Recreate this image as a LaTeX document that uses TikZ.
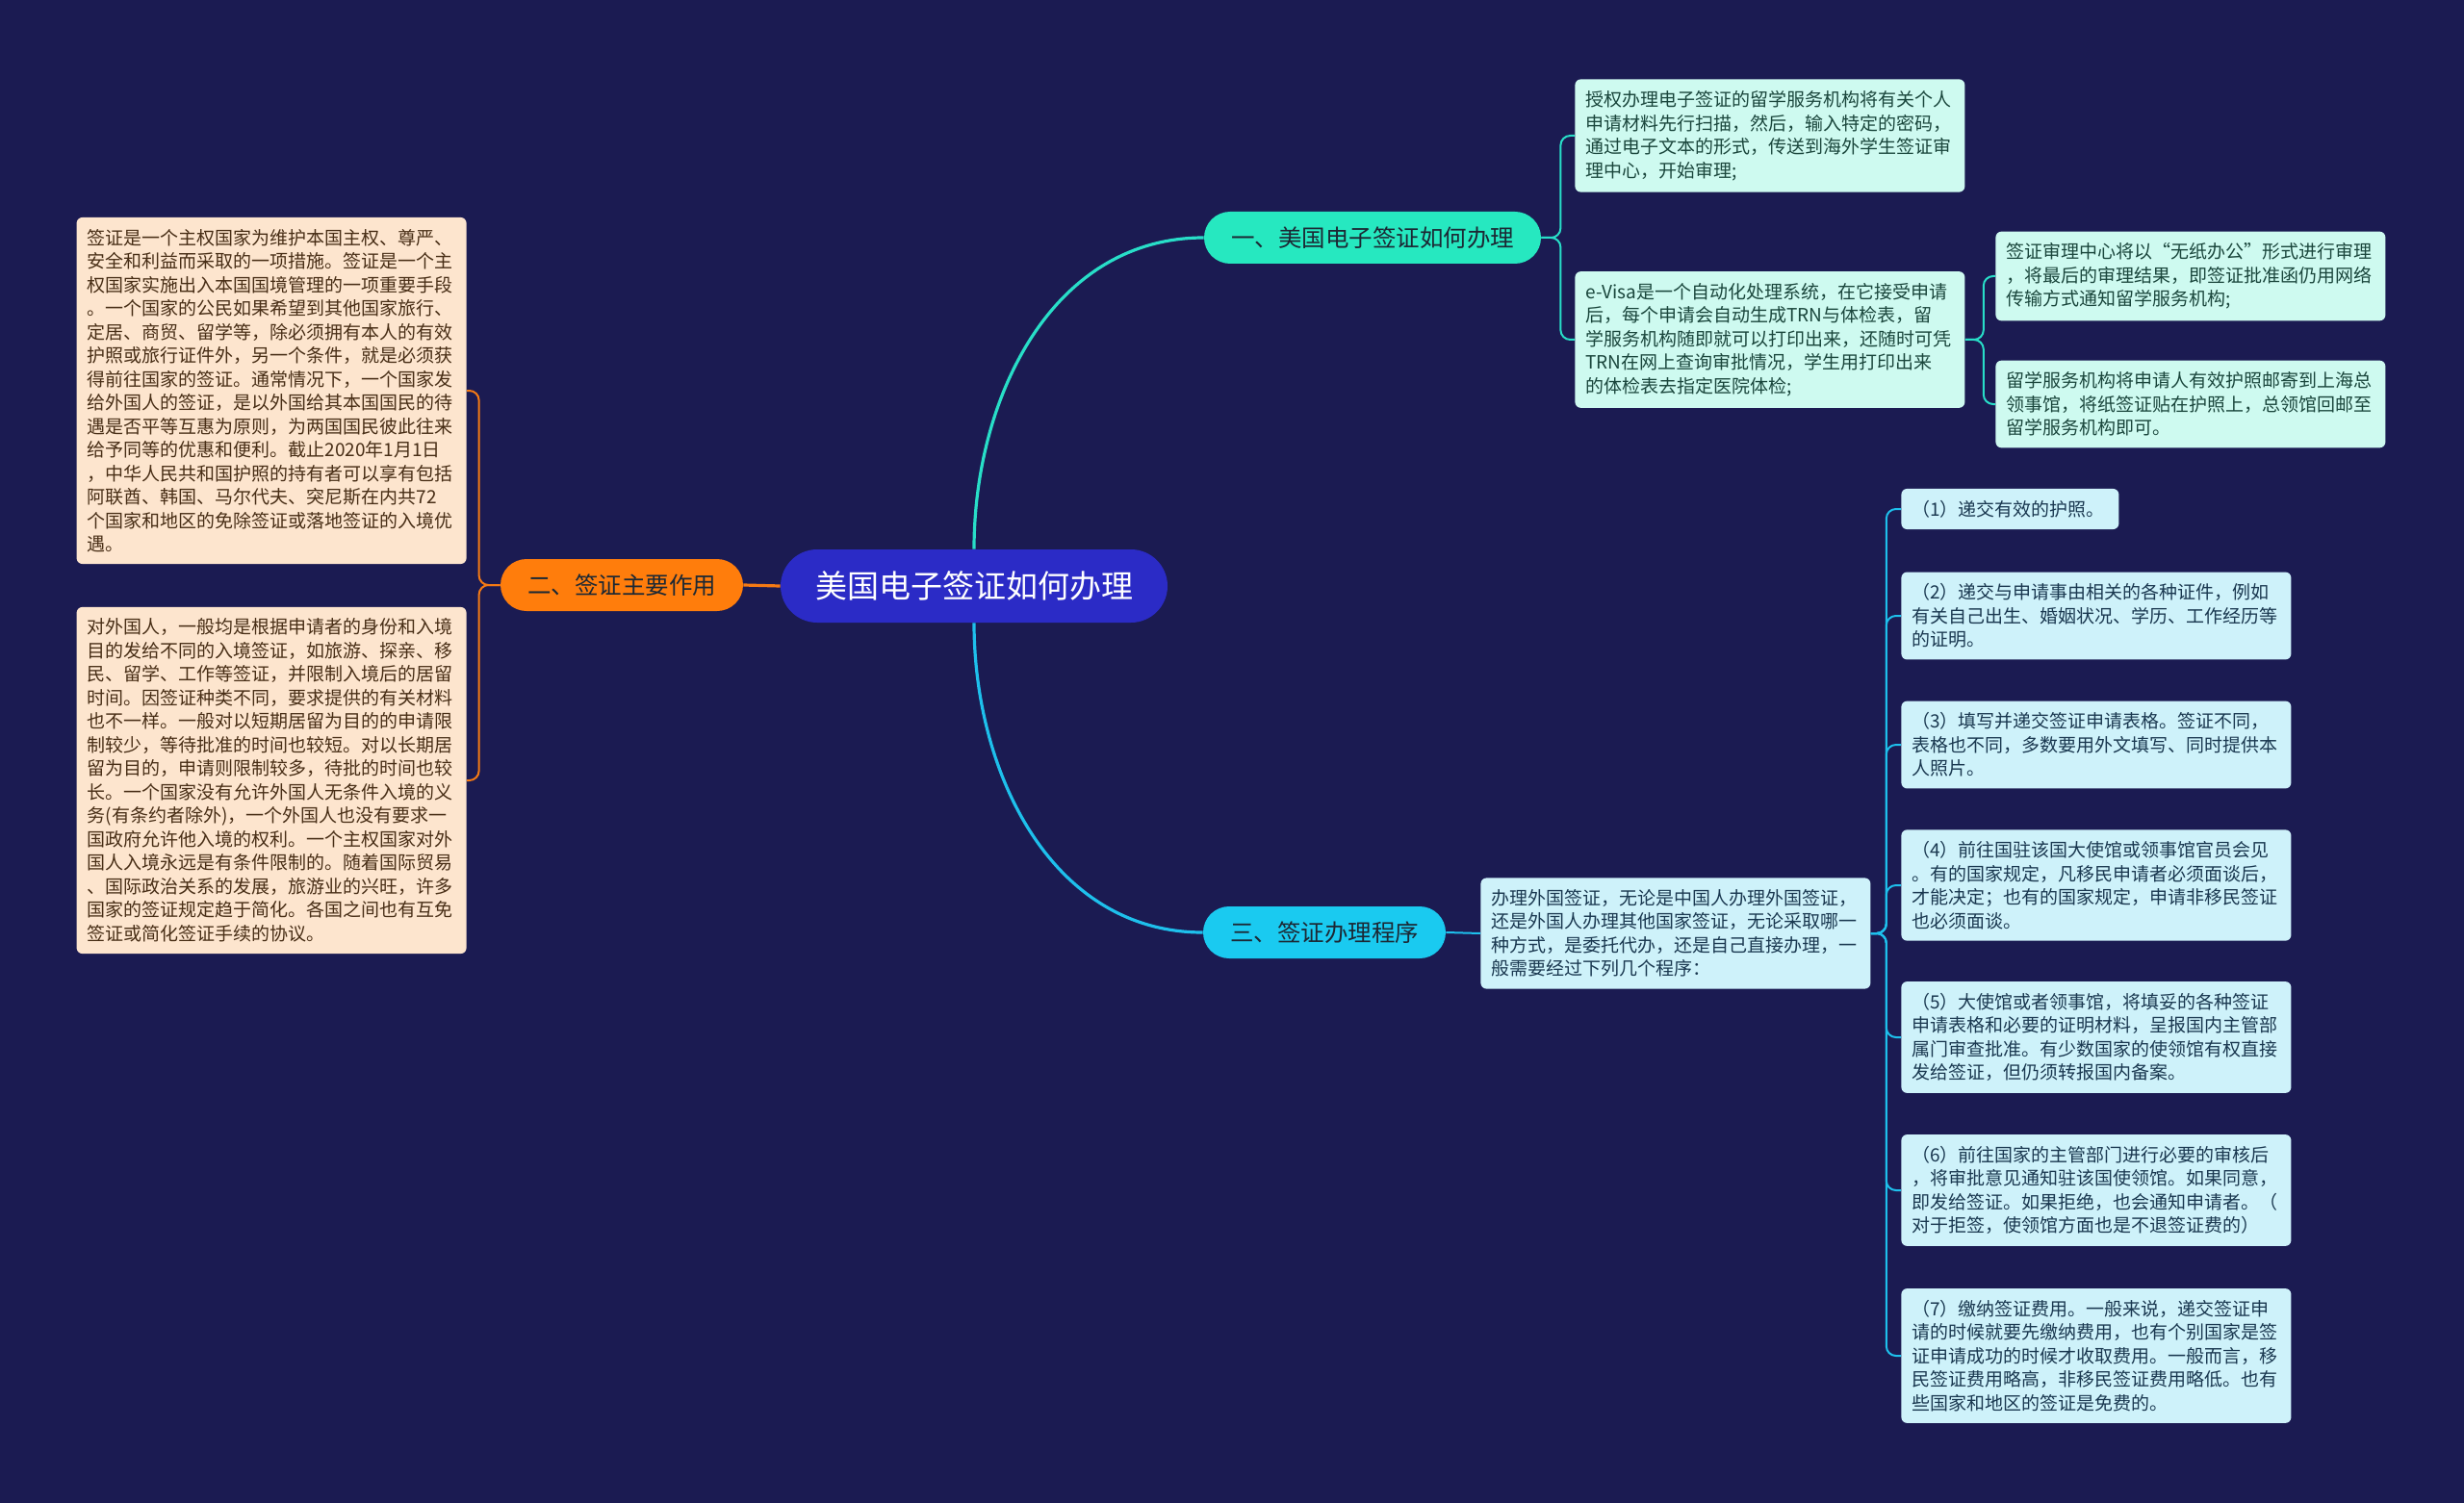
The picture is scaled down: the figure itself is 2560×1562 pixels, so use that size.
\documentclass[tikz,border=0pt]{standalone}
\usepackage{fontspec}
\setmainfont{Noto Sans CJK SC}
\usepackage{xcolor}

\definecolor{bgnavy}{RGB}{27,27,82}
\definecolor{rootblue}{RGB}{43,43,198}
\definecolor{tealfill}{RGB}{38,232,192}
\definecolor{orangefill}{RGB}{255,125,12}
\definecolor{cyanfill}{RGB}{26,202,240}
\definecolor{topictext}{RGB}{28,40,52}
\definecolor{peach}{RGB}{253,229,206}
\definecolor{peachtext}{RGB}{72,46,22}
\definecolor{mint}{RGB}{206,250,240}
\definecolor{minttext}{RGB}{26,70,60}
\definecolor{sky}{RGB}{206,242,250}
\definecolor{skytext}{RGB}{26,56,80}
\definecolor{linkteal}{RGB}{40,222,200}
\definecolor{linkorange}{RGB}{245,122,20}
\definecolor{linkcyan}{RGB}{30,192,236}

\begin{document}
\begin{tikzpicture}[
  x=0.5pt, y=-0.5pt,
  every node/.style={align=left, inner xsep=5.5pt, inner ysep=6pt, rounded corners=3pt, font=\fontsize{9.5}{12.25}\selectfont},
  rootnode/.style={fill=rootblue, text=white, rounded corners=19pt, minimum height=38pt, inner xsep=18pt, inner ysep=0pt, font=\fontsize{16.5}{19}\selectfont},
  topicnode/.style={rounded corners=13.5pt, minimum height=27pt, inner xsep=14pt, inner ysep=0pt, text=topictext, font=\fontsize{12.25}{14}\selectfont},
  leftleaf/.style={fill=peach, text=peachtext, text width=191.5pt, anchor=east},
  mintleaf/.style={fill=mint, text=minttext, text width=191.5pt, anchor=west},
  skyleaf/.style={fill=sky, text=skytext, text width=191.5pt, anchor=west},
  mainlink/.style={line width=1.6pt},
  sublink/.style={line width=1pt, rounded corners=5pt}
]
\fill[bgnavy] (0,0) rectangle (2560,1562);
\useasboundingbox (0,0) rectangle (2560,1562);

% root and topics
\node[rootnode] (root) at (1012,609) {美国电子签证如何办理};
\node[topicnode, fill=tealfill] (online) at (1426,247) {一、美国电子签证如何办理};
\node[topicnode, fill=orangefill] (role) at (646,608) {二、签证主要作用};
\node[topicnode, fill=cyanfill] (steps) at (1376,969) {三、签证办理程序};

% left side
\node[leftleaf] (role1) at (485,406) {签证是一个主权国家为维护本国主权、尊严、\\安全和利益而采取的一项措施。签证是一个主\\权国家实施出入本国国境管理的一项重要手段\\。一个国家的公民如果希望到其他国家旅行、\\定居、商贸、留学等，除必须拥有本人的有效\\护照或旅行证件外，另一个条件，就是必须获\\得前往国家的签证。通常情况下，一个国家发\\给外国人的签证，是以外国给其本国国民的待\\遇是否平等互惠为原则，为两国国民彼此往来\\给予同等的优惠和便利。截止2020年1月1日\\，中华人民共和国护照的持有者可以享有包括\\阿联酋、韩国、马尔代夫、突尼斯在内共72\\个国家和地区的免除签证或落地签证的入境优\\遇。};
\node[leftleaf] (role2) at (485,811) {对外国人，一般均是根据申请者的身份和入境\\目的发给不同的入境签证，如旅游、探亲、移\\民、留学、工作等签证，并限制入境后的居留\\时间。因签证种类不同，要求提供的有关材料\\也不一样。一般对以短期居留为目的的申请限\\制较少，等待批准的时间也较短。对以长期居\\留为目的，申请则限制较多，待批的时间也较\\长。一个国家没有允许外国人无条件入境的义\\务(有条约者除外)，一个外国人也没有要求一\\国政府允许他入境的权利。一个主权国家对外\\国人入境永远是有条件限制的。随着国际贸易\\、国际政治关系的发展，旅游业的兴旺，许多\\国家的签证规定趋于简化。各国之间也有互免\\签证或简化签证手续的协议。};

% upper right
\node[mintleaf] (scan) at (1636,141) {授权办理电子签证的留学服务机构将有关个人\\申请材料先行扫描，然后，输入特定的密码，\\通过电子文本的形式，传送到海外学生签证审\\理中心，开始审理;};
\node[mintleaf] (evisa) at (1636,353) {e-Visa是一个自动化处理系统，在它接受申请\\后，每个申请会自动生成TRN与体检表，留\\学服务机构随即就可以打印出来，还随时可凭\\TRN在网上查询审批情况，学生用打印出来\\的体检表去指定医院体检;};
\node[mintleaf] (review) at (2073,287) {签证审理中心将以“无纸办公”形式进行审理\\，将最后的审理结果，即签证批准函仍用网络\\传输方式通知留学服务机构;};
\node[mintleaf] (mail) at (2073,420) {留学服务机构将申请人有效护照邮寄到上海总\\领事馆，将纸签证贴在护照上，总领馆回邮至\\留学服务机构即可。};

% lower right
\node[skyleaf] (intro) at (1538,970) {办理外国签证，无论是中国人办理外国签证，\\还是外国人办理其他国家签证，无论采取哪一\\种方式，是委托代办，还是自己直接办理，一\\般需要经过下列几个程序：};
\node[skyleaf, text width=102pt] (step1) at (1975,529) {（1）递交有效的护照。};
\node[skyleaf] (step2) at (1975,640) {（2）递交与申请事由相关的各种证件，例如\\有关自己出生、婚姻状况、学历、工作经历等\\的证明。};
\node[skyleaf] (step3) at (1975,774) {（3）填写并递交签证申请表格。签证不同，\\表格也不同，多数要用外文填写、同时提供本\\人照片。};
\node[skyleaf] (step4) at (1975,920) {（4）前往国驻该国大使馆或领事馆官员会见\\。有的国家规定，凡移民申请者必须面谈后，\\才能决定；也有的国家规定，申请非移民签证\\也必须面谈。};
\node[skyleaf] (step5) at (1975,1078) {（5）大使馆或者领事馆，将填妥的各种签证\\申请表格和必要的证明材料，呈报国内主管部\\属门审查批准。有少数国家的使领馆有权直接\\发给签证，但仍须转报国内备案。};
\node[skyleaf] (step6) at (1975,1237) {（6）前往国家的主管部门进行必要的审核后\\，将审批意见通知驻该国使领馆。如果同意，\\即发给签证。如果拒绝，也会通知申请者。（\\对于拒签，使领馆方面也是不退签证费的）};
\node[skyleaf] (step7) at (1975,1409) {（7）缴纳签证费用。一般来说，递交签证申\\请的时候就要先缴纳费用，也有个别国家是签\\证申请成功的时候才收取费用。一般而言，移\\民签证费用略高，非移民签证费用略低。也有\\些国家和地区的签证是免费的。};

% links
\draw[mainlink, linkorange] (root.west) -- (role.east);
\draw[mainlink, linkteal] (root.north) to[out=90, in=180] (online.west);
\draw[mainlink, linkcyan] (root.south) to[out=-90, in=180] (steps.west);

\draw[sublink, linkorange] (role.west) -- ++(-22,0) |- (role1.east);
\draw[sublink, linkorange] (role.west) -- ++(-22,0) |- (role2.east);

\draw[sublink, linkteal] (online.east) -- ++(20,0) |- (scan.west);
\draw[sublink, linkteal] (online.east) -- ++(20,0) |- (evisa.west);
\draw[sublink, linkteal] (evisa.east) -- ++(19,0) |- (review.west);
\draw[sublink, linkteal] (evisa.east) -- ++(19,0) |- (mail.west);

\draw[sublink, linkcyan] (steps.east) -- (intro.west);
\draw[sublink, linkcyan] (intro.east) -- ++(16,0) |- (step1.west);
\draw[sublink, linkcyan] (intro.east) -- ++(16,0) |- (step2.west);
\draw[sublink, linkcyan] (intro.east) -- ++(16,0) |- (step3.west);
\draw[sublink, linkcyan] (intro.east) -- ++(16,0) |- (step4.west);
\draw[sublink, linkcyan] (intro.east) -- ++(16,0) |- (step5.west);
\draw[sublink, linkcyan] (intro.east) -- ++(16,0) |- (step6.west);
\draw[sublink, linkcyan] (intro.east) -- ++(16,0) |- (step7.west);
\end{tikzpicture}
\end{document}
